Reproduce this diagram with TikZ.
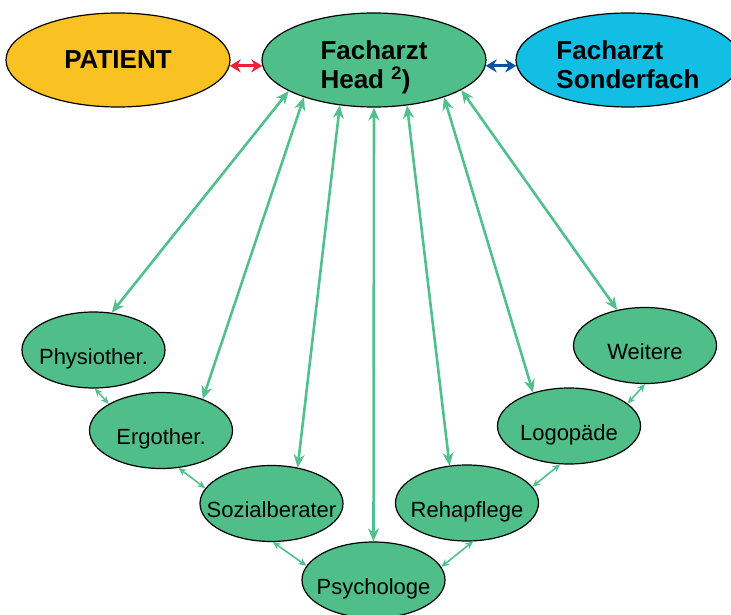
\documentclass[tikz,border=0pt]{standalone}
\usepackage{fontspec}
\setmainfont{Liberation Sans}
\usetikzlibrary{shapes.geometric,arrows.meta}

\definecolor{gruen}{RGB}{80,190,137}
\definecolor{pfeilgruen}{RGB}{82,192,140}
\definecolor{gelb}{RGB}{250,193,35}
\definecolor{tuerkis}{RGB}{18,190,228}
\definecolor{rot}{RGB}{237,32,52}
\definecolor{blau}{RGB}{12,82,160}

\begin{document}
\begin{tikzpicture}[x=1pt,y=-1pt,>={Stealth[length=13pt,width=11pt]},
arzt/.style ={ellipse, draw=black, line width=1.2pt, align=left, inner sep=0pt, minimum width=224pt, minimum height=94pt, font=\fontsize{26}{29}\selectfont\bfseries},
ther/.style ={ellipse, draw=black, line width=1.2pt, fill=gruen, inner ysep=0pt, inner xsep=-25pt, minimum width=143pt, minimum height=76pt, font=\fontsize{22}{26}\selectfont, text height=33pt, text depth=4.5pt},
link/.style ={<->, pfeilgruen, line width=2.6pt},
nb/.style ={<->, pfeilgruen, line width=1.6pt, >={Stealth[length=8pt,width=7pt]}},
rb/.style ={<->, line width=3pt, >={Stealth[length=11pt,width=13pt]}}]

\useasboundingbox (0,0) rectangle (731,615);

\draw (118,60) node[arzt, fill=gelb] (Pat) {PATIENT};
\draw (374,60) node[arzt, fill=gruen, text height=62pt, text depth=4pt] (Head) {Facharzt\\Head \textsuperscript{2})};
\draw (628,60) node[arzt, fill=tuerkis, text height=62pt, text depth=4pt] (Sond) {Facharzt\\Sonderfach};
\draw[rb, rot] (Pat.-3)--(Head.-177);
\draw[rb, blau] (Head.-3)--(Sond.-177);

\draw (93.5,350) node[ther] (Phys) {Physiother.};
\draw (161,430.5) node[ther] (Ergo) {Ergother.};
\draw (271.5,503.5) node[ther] (Soz) {Sozialberater};
\draw (373.5,580) node[ther] (Psy) {Psychologe};
\draw (467,503) node[ther] (Reha) {Rehapflege};
\draw (569,426) node[ther] (Logo) {Logopäde};
\draw (645,345.5) node[ther] (Weit) {Weitere};

\draw[link] (Head.-160)--(Phys.64);
\draw[link] (Head.-152)--(Ergo.37);
\draw[link] (Head.-127)--(Soz.54);
\draw[link] (Head.-90)--(Psy.90);
\draw[link] (Head.-54)--(Reha.115);
\draw[link] (Head.-28)--(Logo.137);
\draw[link] (Head.-19)--(Weit.128);

\draw[nb] (Phys.-88)--(Ergo.153);
\draw[nb] (Ergo.-65)--(Soz.167);
\draw[nb] (Soz.-88)--(Psy.168);
\draw[nb] (Psy.11)--(Reha.-81);
\draw[nb] (Reha.14)--(Logo.-103);
\draw[nb] (Logo.21)--(Weit.-90);

\end{tikzpicture}
\end{document}
